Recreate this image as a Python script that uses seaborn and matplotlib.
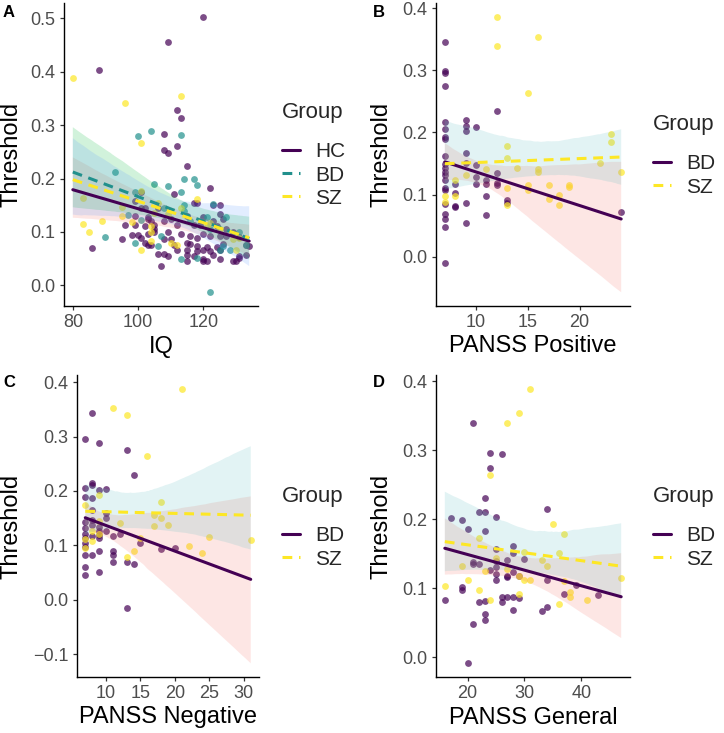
import numpy as np
import matplotlib
matplotlib.use("Agg")
import matplotlib.pyplot as plt
import seaborn as sns
from matplotlib.lines import Line2D
from matplotlib.ticker import MultipleLocator, FuncFormatter

# ---------------- data ----------------
# Panel A : IQ vs Threshold
a_hc_iq = [120, 109, 88, 112, 113, 108, 108, 109, 112, 115, 111, 122, 101, 99, 117, 118, 102, 106, 86, 95,
           96, 99, 99, 100, 101, 102, 102, 103, 103, 104, 104, 103, 105, 106, 108, 109, 107, 123, 125, 115,
           120, 125, 126, 103, 108, 110, 112, 117, 119, 123, 124, 127, 129, 131, 134, 105, 109, 113, 116, 118,
           120, 122, 125, 127, 108, 115, 116, 118, 121, 124, 126, 115, 118, 120, 122, 125, 115, 117, 120, 123,
           125, 130, 131, 133, 115, 111, 112, 110, 120, 121, 129, 131, 133, 101, 98, 105]
a_hc_thr = [0.503, 0.456, 0.404, 0.328, 0.313, 0.284, 0.253, 0.247, 0.260, 0.224, 0.171, 0.183, 0.175, 0.157, 0.155, 0.154, 0.144, 0.145, 0.069, 0.086,
            0.112, 0.112, 0.130, 0.094, 0.089, 0.111, 0.079, 0.075, 0.125, 0.120, 0.076, 0.096, 0.112, 0.058, 0.059, 0.055, 0.036, 0.150, 0.150, 0.129,
            0.127, 0.133, 0.124, 0.127, 0.120, 0.124, 0.112, 0.112, 0.112, 0.120, 0.111, 0.105, 0.099, 0.090, 0.074, 0.105, 0.099, 0.096, 0.092, 0.089,
            0.096, 0.092, 0.092, 0.092, 0.087, 0.080, 0.077, 0.074, 0.071, 0.071, 0.077, 0.067, 0.064, 0.067, 0.064, 0.067, 0.056, 0.055, 0.049, 0.056,
            0.049, 0.046, 0.052, 0.056, 0.046, 0.075, 0.067, 0.086, 0.046, 0.046, 0.046, 0.055, 0.075, 0.144, 0.094, 0.099]
a_bd_iq = [122, 104, 100, 113, 93, 99, 105, 109, 114, 117, 118, 113, 114, 123, 127, 108, 114, 116, 121, 107,
           106, 125, 128, 113, 118, 133, 126, 122, 90, 99, 97, 101, 131]
a_bd_thr = [-0.013, 0.289, 0.279, 0.281, 0.212, 0.175, 0.190, 0.186, 0.199, 0.199, 0.188, 0.174, 0.150, 0.152, 0.127, 0.145, 0.139, 0.120, 0.127, 0.092,
            0.074, 0.067, 0.067, 0.050, 0.052, 0.075, 0.074, 0.105, 0.090, 0.080, 0.131, 0.122, 0.099]
a_sz_iq = [80, 96, 113, 101, 101, 83, 83, 85, 89, 95, 101, 104, 98, 106, 118, 110, 113, 105, 104, 129,
           125, 121, 95, 109, 122, 131, 112, 130, 104]
a_sz_thr = [0.389, 0.341, 0.355, 0.266, 0.177, 0.164, 0.114, 0.099, 0.120, 0.130, 0.066, 0.083, 0.119, 0.155, 0.161, 0.080, 0.144, 0.136, 0.111, 0.086,
            0.105, 0.111, 0.147, 0.133, 0.117, 0.089, 0.075, 0.067, 0.099]

# Panel B : PANSS Positive
b_bd_x = [7, 7, 7, 7, 7, 7, 7, 7, 7, 7, 7, 7, 7, 7, 7, 7, 7, 7, 7, 7, 7,
          8, 8, 8, 8, 9, 9, 9, 9, 9, 9, 9, 10, 10, 10, 10, 11, 11, 11, 11,
          12, 12, 12, 12, 13, 13, 24]
b_bd_y = [0.345, 0.299, 0.296, 0.274, 0.216, 0.205, 0.193, 0.189, 0.162, 0.149, 0.142, 0.137, 0.131, 0.123, 0.110, 0.107, 0.084, 0.068, 0.061, 0.048, -0.010,
          0.117, 0.102, 0.082, 0.080, 0.220, 0.210, 0.203, 0.167, 0.150, 0.086, 0.054, 0.208, 0.148, 0.128, 0.117, 0.124, 0.117, 0.097, 0.067,
          0.235, 0.134, 0.119, 0.115, 0.092, 0.086, 0.072]
b_sz_x = [12, 12, 16, 15, 13, 13, 14, 11, 9, 8, 8, 7, 7, 13, 13, 15, 15, 16, 16, 17, 17, 18, 18, 19, 19, 22, 23, 23, 24]
b_sz_y = [0.386, 0.339, 0.353, 0.263, 0.178, 0.158, 0.143, 0.141, 0.132, 0.124, 0.098, 0.097, 0.088, 0.111, 0.083, 0.115, 0.108, 0.141, 0.137, 0.116,
          0.093, 0.100, 0.083, 0.116, 0.112, 0.150, 0.198, 0.185, 0.137]

# Panel C : PANSS Negative
c_bd_x = [8, 7, 9, 13, 14, 8, 8, 7, 9, 10, 7, 8, 8, 10, 10, 7, 8, 7, 8, 9,
          9, 10, 11, 12, 7, 9, 7, 11, 11, 11, 13, 14, 9, 7, 8, 7, 7, 9, 13, 15,
          18, 20, 7, 7, 9, 8]
c_bd_y = [0.344, 0.296, 0.289, 0.276, 0.229, 0.214, 0.211, 0.205, 0.201, 0.204, 0.189, 0.187, 0.165, 0.160, 0.150, 0.143, 0.147, 0.132, 0.137, 0.133,
          0.127, 0.126, 0.118, 0.121, 0.120, 0.114, 0.104, 0.090, 0.082, 0.070, 0.070, 0.065, 0.089, 0.083, 0.083, 0.061, 0.046, 0.050, -0.015, 0.105,
          0.093, 0.095, 0.114, 0.096, 0.119, 0.118]
c_sz_x = [11, 13, 21, 16, 9, 7, 18, 17, 18, 17, 19, 12, 9, 8, 8, 7, 7, 15, 14, 13, 22, 24, 25, 31, 9]
c_sz_y = [0.353, 0.340, 0.388, 0.264, 0.193, 0.175, 0.180, 0.155, 0.151, 0.135, 0.138, 0.141, 0.144, 0.126, 0.107, 0.111, 0.095, 0.114, 0.090, 0.079,
          0.098, 0.085, 0.115, 0.110, 0.120]

# Panel D : PANSS General
d_bd_x = [21, 24, 24, 26, 23, 23, 22, 17, 19, 20, 23, 25, 34, 25, 28, 28, 21, 21, 22, 25,
          25, 27, 30, 24, 25, 28, 27, 27, 25, 19, 19, 16, 22, 23, 26, 27, 28, 29, 26, 23,
          23, 21, 28, 33, 34, 34, 37, 39, 43, 20, 29]
d_bd_y = [0.340, 0.296, 0.274, 0.294, 0.230, 0.210, 0.210, 0.201, 0.198, 0.186, 0.183, 0.203, 0.215, 0.157, 0.161, 0.151, 0.138, 0.135, 0.135, 0.139,
          0.131, 0.140, 0.142, 0.126, 0.120, 0.123, 0.118, 0.116, 0.111, 0.102, 0.097, 0.082, 0.080, 0.081, 0.087, 0.087, 0.087, 0.086, 0.080, 0.063,
          0.054, 0.048, 0.068, 0.067, 0.072, 0.112, 0.091, 0.104, 0.090, -0.009, 0.117]
d_sz_x = [31, 29, 27, 24, 22, 19, 20, 16, 22, 24, 25, 23, 27, 29, 29, 30, 30, 31, 33, 34,
          35, 37, 36, 37, 38, 38, 36, 41, 47]
d_sz_y = [0.389, 0.354, 0.340, 0.264, 0.173, 0.132, 0.112, 0.103, 0.097, 0.082, 0.143, 0.125, 0.127, 0.117, 0.092, 0.152, 0.111, 0.111, 0.141, 0.132,
          0.193, 0.179, 0.151, 0.110, 0.095, 0.087, 0.077, 0.083, 0.114]

for xs, ys in [(a_hc_iq, a_hc_thr), (a_bd_iq, a_bd_thr), (a_sz_iq, a_sz_thr), (b_bd_x, b_bd_y), (b_sz_x, b_sz_y),
               (c_bd_x, c_bd_y), (c_sz_x, c_sz_y), (d_bd_x, d_bd_y), (d_sz_x, d_sz_y)]:
    assert len(xs) == len(ys), (len(xs), len(ys))

# ---------------- style ----------------
sns.set_theme(style="white")
plt.rcParams['font.family'] = ['Liberation Sans', 'DejaVu Sans']

PURPLE, TEAL, YELLOW = "#440154", "#21908C", "#FDE725"
F_RED, F_GREEN, F_BLUE, F_CYAN = "#F8766D", "#00BA38", "#619CFF", "#5FBFC2"
DASH = (3.2, 2.2)

W, H = 724, 733
fig = plt.figure(figsize=(W / 100, H / 100), dpi=100)


def add_ax(l, t, r, b):
    return fig.add_axes([l / W, 1 - b / H, (r - l) / W, (b - t) / H])


def fmt(v, pos):
    return f"{v:.1f}".replace("-", "\u2212")


def panel(ax, groups, xlabel, xstep, letter, lpos, label_x):
    allx = np.concatenate([np.asarray(g[1], float) for g in groups])
    lo, hi = allx.min(), allx.max()
    for name, x, y, lc, fc, dashed in groups:
        sns.scatterplot(x=np.asarray(x, float), y=np.asarray(y, float), ax=ax, color=lc,
                        alpha=0.7, s=24, linewidth=0, zorder=2)
    ax.set_xlim(lo, hi)
    for name, x, y, lc, fc, dashed in groups:
        n0 = len(ax.collections)
        lk = dict(color=lc, lw=2.2, zorder=4)
        if dashed:
            lk["dashes"] = DASH
        sns.regplot(x=np.asarray(x, float), y=np.asarray(y, float), ax=ax, scatter=False,
                    truncate=False, color=fc, seed=0, n_boot=2000, line_kws=lk)
        for c in ax.collections[n0:]:
            c.set_facecolor(fc)
            c.set_alpha(0.18)
            c.set_edgecolor("none")
            c.set_zorder(3)
    pad = (hi - lo) * 0.05
    ax.set_xlim(lo - pad, hi + pad)
    ax.xaxis.set_major_locator(MultipleLocator(xstep))
    ax.yaxis.set_major_locator(MultipleLocator(0.1))
    ax.yaxis.set_major_formatter(FuncFormatter(fmt))
    for s in ["top", "right"]:
        ax.spines[s].set_visible(False)
    for s in ["left", "bottom"]:
        ax.spines[s].set_color("black")
        ax.spines[s].set_linewidth(1.0)
    ax.tick_params(axis="both", which="major", length=3, width=0.9, color="#333333",
                   labelcolor="#4D4D4D", labelsize=13, pad=3, left=True, bottom=True)
    ax.set_xlabel(xlabel, fontsize=17, color="black", labelpad=3)
    ax.set_ylabel("Threshold", fontsize=17, color="black")
    ax.yaxis.set_label_coords(label_x, 0.5)
    handles = []
    for name, x, y, lc, fc, dashed in groups:
        if dashed:
            handles.append(Line2D([], [], color=lc, lw=2.2, dashes=DASH))
        else:
            handles.append(Line2D([], [], color=lc, lw=2.2))
    leg = ax.legend(handles=handles, labels=[g[0] for g in groups], title="Group",
                    loc="upper left", bbox_to_anchor=(lpos[0] / W, 1 - lpos[1] / H),
                    bbox_transform=fig.transFigure, frameon=False, fontsize=15,
                    title_fontsize=16, handlelength=0.85, handletextpad=0.75,
                    labelspacing=0.2, borderpad=0, borderaxespad=0, alignment="left")
    leg._legend_box.sep = 14
    fig.text(lpos[2] / W, 1 - lpos[3] / H, letter, fontsize=12, fontweight="bold",
             ha="left", va="top", color="black")


axA = add_ax(64, 3, 258, 306)
panel(axA, [("HC", a_hc_iq, a_hc_thr, PURPLE, F_RED, False),
            ("BD", a_bd_iq, a_bd_thr, TEAL, F_GREEN, True),
            ("SZ", a_sz_iq, a_sz_thr, YELLOW, F_BLUE, True)],
      "IQ", 20, "A", (282, 102, 3, 5), -0.215)

axB = add_ax(436, 3, 630, 306)
panel(axB, [("BD", b_bd_x, b_bd_y, PURPLE, F_RED, False),
            ("SZ", b_sz_x, b_sz_y, YELLOW, F_CYAN, True)],
      "PANSS Positive", 5, "B", (653, 114, 373, 5), -0.225)

axC = add_ax(77, 375, 259, 677)
panel(axC, [("BD", c_bd_x, c_bd_y, PURPLE, F_RED, False),
            ("SZ", c_sz_x, c_sz_y, YELLOW, F_CYAN, True)],
      "PANSS Negative", 5, "C", (282, 486, 3, 375), -0.30)

axD = add_ax(436, 375, 630, 677)
panel(axD, [("BD", d_bd_x, d_bd_y, PURPLE, F_RED, False),
            ("SZ", d_sz_x, d_sz_y, YELLOW, F_CYAN, True)],
      "PANSS General", 10, "D", (653, 486, 373, 375), -0.225)

fig.savefig("out.png", dpi=100, facecolor="white")
